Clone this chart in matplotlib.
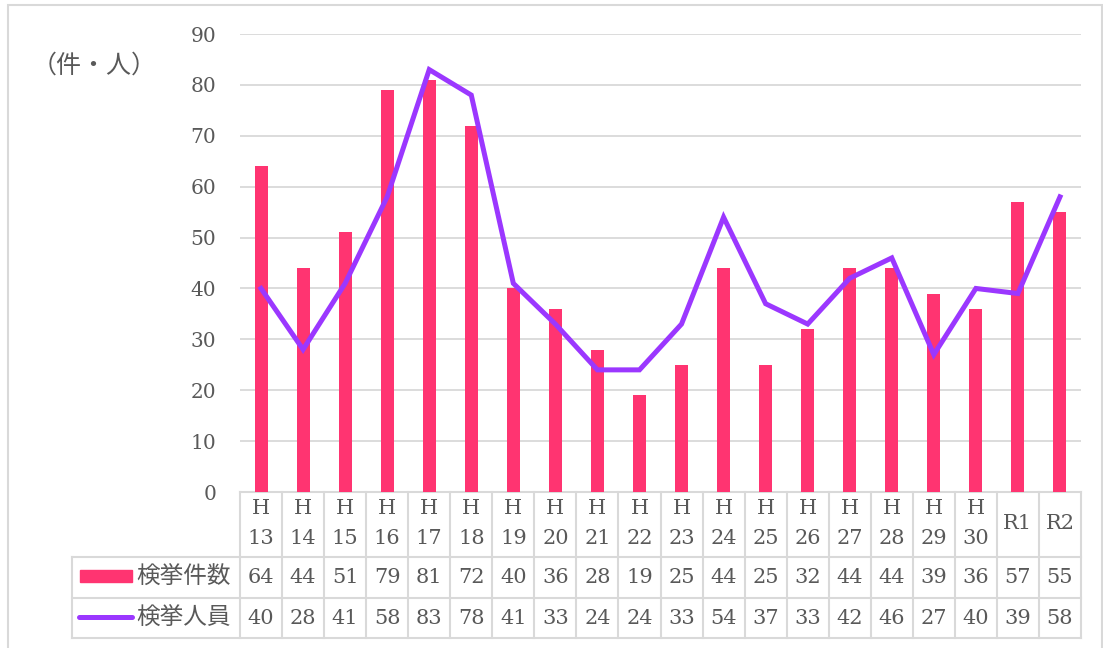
import numpy as np
import matplotlib.pyplot as plt
from matplotlib.patches import Rectangle
from matplotlib.lines import Line2D

# data
years = ['H\n13', 'H\n14', 'H\n15', 'H\n16', 'H\n17', 'H\n18', 'H\n19', 'H\n20', 'H\n21',
         'H\n22', 'H\n23', 'H\n24', 'H\n25', 'H\n26', 'H\n27', 'H\n28', 'H\n29', 'H\n30',
         'R1', 'R2']
cases = [64, 44, 51, 79, 81, 72, 40, 36, 28, 19, 25, 44, 25, 32, 44, 44, 39, 36, 57, 55]
persons = [40, 28, 41, 58, 83, 78, 41, 33, 24, 24, 33, 54, 37, 33, 42, 46, 27, 40, 39, 58]
series_names = ['検挙件数', '検挙人員']
unit_label = '（件・人）'

plt.rcParams['font.family'] = ['DejaVu Serif', 'Noto Sans CJK JP']
pink = '#FF3471'
purple = '#9B37FF'
grid_c = '#D9D9D9'
txt_c = '#595959'

fig = plt.figure(figsize=(11.03, 6.48), dpi=100)
ax = fig.add_axes([240/1103, 1-492/648, (1081-240)/1103, 458/648])

x = np.arange(len(cases))
ax.bar(x, cases, width=0.31, color=pink, zorder=2)
ax.plot(x, persons, color=purple, lw=3.6, zorder=3, solid_joinstyle='miter')

ax.set_xlim(-0.5, len(cases) - 0.5)
ax.set_ylim(0, 90)
ax.set_yticks(range(0, 91, 10))
ax.yaxis.grid(True, color=grid_c, lw=1.3, zorder=0)
ax.set_xticks([])
for s in ax.spines.values():
    s.set_visible(False)
ax.tick_params(axis='y', length=0, pad=17, labelsize=14.5, labelcolor=txt_c)
for t in ax.get_yticklabels():
    t.set_fontweight('light')

# data table under the plot
tr = ax.get_xaxis_transform()
r0, r1, r2, r3 = 0, -65/458, -106/458, -146/458
left = -4.5
kw = dict(color=grid_c, lw=1.5, transform=tr, clip_on=False, zorder=1)
ax.plot([-0.5, len(cases) - 0.5], [r0, r0], **kw)
for yy in (r1, r2, r3):
    ax.plot([left, len(cases) - 0.5], [yy, yy], **kw)
ax.plot([left, left], [r1, r3], **kw)
for i in range(len(cases) + 1):
    ax.plot([i - 0.5, i - 0.5], [r0, r3], **kw)

tkw = dict(transform=tr, ha='center', va='center', fontsize=15, color=txt_c,
           clip_on=False, linespacing=1.75)
for i, lab in enumerate(years):
    ax.text(i, (r0 + r1) / 2 + 0.002, lab, **tkw)
    ax.text(i, (r1 + r2) / 2, str(cases[i]), **tkw)
    ax.text(i, (r2 + r3) / 2, str(persons[i]), **tkw)

# legend keys in the table
ax.add_patch(Rectangle((-4.305, -90/458), 1.237, 12/458, transform=tr,
                       color=pink, clip_on=False))
ax.add_line(Line2D([-4.33, -3.07], [-125/458, -125/458], transform=tr, color=purple,
                   lw=3.6, solid_capstyle='round', clip_on=False))
ax.text(-2.97, (r1 + r2) / 2, series_names[0], transform=tr, ha='left', va='center',
        fontsize=17, color=txt_c, clip_on=False)
ax.text(-2.97, (r2 + r3) / 2, series_names[1], transform=tr, ha='left', va='center',
        fontsize=17, color=txt_c, clip_on=False)

fig.text(94/1103, 1-66/648, unit_label, ha='center', va='center', fontsize=18, color=txt_c)

# outer frame
fig.patches.append(Rectangle((8/1103, -0.1), (1102-8)/1103, 1.1 - 5/648,
                             transform=fig.transFigure, fill=False, ec=grid_c, lw=1.5))

fig.savefig('out.png', dpi=100)
